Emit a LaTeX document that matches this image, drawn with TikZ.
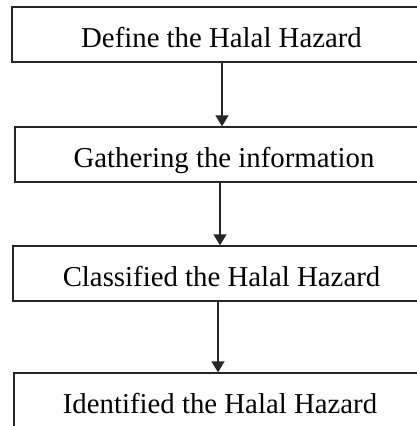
\documentclass[tikz,border=0pt]{standalone}
\usepackage{fontspec}
\setmainfont{Liberation Serif}
\usetikzlibrary{arrows.meta}
\tikzset{
  stepbox/.style={draw=black!85, line width=1.4pt, fill=white, inner sep=0pt,
    minimum height=55pt, text height=25pt, text depth=0pt,
    font=\fontsize{28.8pt}{32pt}\selectfont},
  flow/.style={draw=black!85, line width=1.4pt, -{Triangle[width=13pt,length=11pt]}}
}
\begin{document}
\begin{tikzpicture}[x=1pt,y=-1pt]
\clip (0,0) rectangle (417,426);
\fill[white] (0,0) rectangle (417,426);
\node[stepbox, minimum width=419pt] (b1) at (221.5,34.5) {Define the Halal Hazard};
\node[stepbox, minimum width=418pt] (b2) at (224,154.5) {Gathering the information};
\node[stepbox, minimum width=417pt] (b3) at (221.5,273.5) {Classified the Halal Hazard};
\node[stepbox, minimum width=412pt] (b4) at (220,400.5) {Identified the Halal Hazard};
\coordinate (x1) at (222,0);
\coordinate (x2) at (220,0);
\coordinate (x3) at (218,0);
\draw[flow] (b1.south -| x1) -- (b2.north -| x1);
\draw[flow] (b2.south -| x2) -- (b3.north -| x2);
\draw[flow] (b3.south -| x3) -- (b4.north -| x3);
\end{tikzpicture}
\end{document}
